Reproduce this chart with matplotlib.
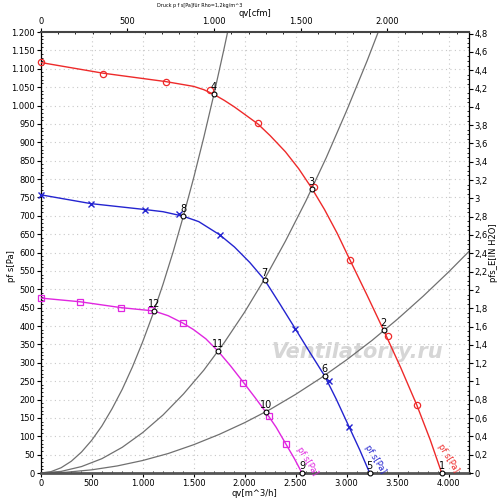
import numpy as np
import matplotlib
matplotlib.use("Agg")
import matplotlib.pyplot as plt
from matplotlib.ticker import MultipleLocator, FuncFormatter

# fan curves (q in m^3/h, p in Pa)
red_q = [0, 610, 1228, 1500, 1600, 1700, 1800, 1900, 2000, 2129, 2250, 2400, 2530, 2658,
         2783, 2908, 3032, 3200, 3362, 3530, 3688, 3820, 3932]
red_p = [1117, 1088, 1065, 1052, 1043, 1030, 1014, 996, 976, 950, 918, 874, 828, 775,
         717, 652, 580, 484, 389, 287, 185, 90, 0]
red_mq = [0, 610, 1228, 1659, 2129, 2678, 3032, 3404, 3688]
red_mp = [1118, 1086, 1064, 1042, 952, 778, 580, 373, 185]

blue_q = [0, 493, 1020, 1200, 1395, 1550, 1756, 1900, 2050, 2197, 2350, 2491, 2640, 2785,
          2900, 3020, 3130, 3226]
blue_p = [757, 733, 717, 711, 699, 684, 648, 615, 573, 525, 458, 395, 328, 264,
          200, 128, 62, 0]
blue_mq = [0, 493, 1020, 1356, 1756, 2491, 2824, 3020]
blue_mp = [757, 732, 717, 705, 648, 392, 250, 125]

mag_q = [0, 385, 787, 1110, 1250, 1394, 1500, 1620, 1738, 1860, 1984, 2100, 2207, 2310,
         2404, 2490, 2562]
mag_p = [476, 466, 450, 441, 428, 408, 390, 365, 332, 292, 248, 206, 166, 124,
         79, 38, 0]
mag_mq = [0, 385, 787, 1081, 1394, 1984, 2237, 2404]
mag_mp = [476, 465, 449, 444, 408, 245, 154, 79]

# system curves, points
sysA_q = [0, 100, 200, 300, 400, 500, 600, 700, 800, 900, 1000, 1100, 1200, 1300, 1400,
          1500, 1600, 1700, 1800, 1833]
sysA_p = [0, 3.6, 14.3, 32, 57, 89, 128, 175, 228, 289, 357, 432, 514, 603, 700,
          803, 914, 1032, 1157, 1200]
sysB_q = [0, 200, 400, 600, 800, 1000, 1200, 1400, 1600, 1800, 2000, 2200, 2400, 2600,
          2800, 3000, 3200, 3310]
sysB_p = [0, 4.4, 17.5, 39, 70, 110, 158, 215, 280, 355, 438, 530, 631, 740,
          858, 986, 1121, 1200]
sysC_q = [0, 250, 500, 750, 1000, 1250, 1500, 1750, 2000, 2250, 2500, 2750, 3000, 3250,
          3500, 3750, 4000, 4200]
sysC_p = [0, 2.1, 8.6, 19.2, 34, 53, 77, 105, 137, 173, 214, 259, 308, 361,
          419, 481, 547, 603]

# operating points 1..12
pt_q = [3932, 3362, 2658, 1700, 3226, 2785, 2197, 1395, 2562, 2207, 1738, 1110]
pt_p = [0, 389, 773, 1031, 0, 264, 525, 699, 0, 166, 332, 441]
pt_lab = [str(i) for i in range(1, 13)]

RED = '#ee2a2a'
BLUE = '#2424d0'
MAG = '#e026e0'
GREY = '#707070'
FS = 6

plt.rcParams['font.family'] = ['DejaVu Sans']

fig = plt.figure(figsize=(5.0, 5.04), dpi=100)
ax = fig.add_axes([0.0814, 0.0615, 0.8566, 0.875])

for q, p in [(sysA_q, sysA_p), (sysB_q, sysB_p), (sysC_q, sysC_p)]:
    ax.plot(q, p, color=GREY, lw=0.9, zorder=2)

ax.plot(red_q, red_p, color=RED, lw=1.0, zorder=3)
ax.plot(red_mq, red_mp, 'o', ms=4.5, mfc='none', mec=RED, mew=0.9, zorder=4, clip_on=False)
ax.plot(blue_q, blue_p, color=BLUE, lw=1.0, zorder=3)
ax.plot(blue_mq, blue_mp, 'x', ms=5, mec=BLUE, mew=1.0, zorder=4, clip_on=False)
ax.plot(mag_q, mag_p, color=MAG, lw=1.0, zorder=3)
ax.plot(mag_mq, mag_mp, 's', ms=4.5, mfc='none', mec=MAG, mew=0.9, zorder=4, clip_on=False)

ax.plot(pt_q, pt_p, 'o', ms=3.5, mfc='white', mec='black', mew=0.8, zorder=5, clip_on=False)
for q, p, s in zip(pt_q, pt_p, pt_lab):
    ax.text(q, p + 5, s, fontsize=7, ha='center', va='bottom', color='black', zorder=6)

# curve names along the fan curves near the bottom
for q0, p0, c in [(2490, 63, MAG), (3159, 68, BLUE), (3872, 71, RED)]:
    ax.text(q0, p0, 'pf s[Pa]', color=c, fontsize=FS, rotation=-58,
            ha='left', va='bottom', rotation_mode='anchor', zorder=6)

ax.text(3100, 330, 'Ventilatorry.ru', fontsize=15, fontstyle='italic', fontweight='bold',
        color='#d6d6d6', ha='center', va='center', zorder=1)

ax.set_xlim(0, 4200)
ax.set_ylim(0, 1200)

thou = FuncFormatter(lambda v, pos: f"{int(round(v)):,}".replace(",", "."))
ax.xaxis.set_major_locator(MultipleLocator(500))
ax.xaxis.set_minor_locator(MultipleLocator(100))
ax.yaxis.set_major_locator(MultipleLocator(50))
ax.yaxis.set_minor_locator(MultipleLocator(10))
ax.xaxis.set_major_formatter(thou)
ax.yaxis.set_major_formatter(thou)
ax.tick_params(axis='both', which='major', labelsize=FS, length=3, direction='out', pad=1)
ax.tick_params(axis='both', which='minor', length=1.5, direction='in')
ax.grid(True, which='major', color='#c8c8c8', linestyle=(0, (1, 3)), lw=0.8)

ax.set_xlabel('qv[m^3/h]', fontsize=FS, labelpad=1)
ax.set_ylabel('pf s[Pa]', fontsize=FS)
ax.yaxis.set_label_coords(-0.058, 0.47)

for side in ['left', 'right']:
    ax.spines[side].set_color('black')
    ax.spines[side].set_linewidth(0.9)
ax.spines['bottom'].set_color('#555555')
ax.spines['bottom'].set_linewidth(2.0)
ax.spines['top'].set_color('#444444')
ax.spines['top'].set_linewidth(1.5)

# right axis in inch water column
PA_PER_INH2O = 249.089
axr = ax.twinx()
axr.set_ylim(0, 1200 / PA_PER_INH2O)
axr.yaxis.set_major_locator(MultipleLocator(0.2))
axr.yaxis.set_minor_locator(MultipleLocator(0.05))
axr.yaxis.set_major_formatter(FuncFormatter(
    lambda v, pos: (f"{v:.1f}".rstrip('0').rstrip('.')).replace('.', ',')))
axr.tick_params(axis='y', which='major', labelsize=FS, length=3, direction='out', pad=1)
axr.tick_params(axis='y', which='minor', length=1.5, direction='in')
axr.set_ylabel('pfs_E[IN H2O]', fontsize=FS)
axr.yaxis.set_label_coords(1.047, 0.5)
for s in axr.spines.values():
    s.set_visible(False)

# top axis in cfm
M3H_PER_CFM = 1.699
axt = ax.secondary_xaxis('top', functions=(lambda x: x / M3H_PER_CFM, lambda x: x * M3H_PER_CFM))
axt.xaxis.set_major_locator(MultipleLocator(500))
axt.xaxis.set_minor_locator(MultipleLocator(100))
axt.xaxis.set_major_formatter(thou)
axt.tick_params(axis='x', which='major', labelsize=FS, length=3, direction='out', pad=1)
axt.tick_params(axis='x', which='minor', length=1.5, direction='in')
axt.set_xlabel('qv[cfm]', fontsize=FS, labelpad=1)
axt.spines['top'].set_visible(False)

fig.text(0.40, 0.99, 'Druck p f s[Pa]für Rho=1,2kg/m^3', fontsize=3.5, ha='center', va='center')

fig.savefig('out.png', dpi=100, facecolor='white')
